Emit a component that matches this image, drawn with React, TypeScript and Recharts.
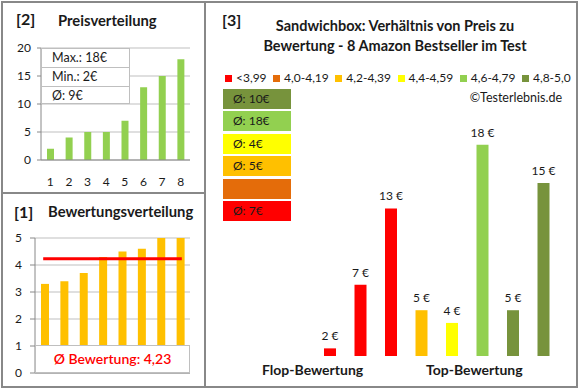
import { BarChart, Bar, XAxis, YAxis, CartesianGrid, Line, ComposedChart, LabelList, Cell } from "recharts";

// [2] Preisverteilung
const PRICE_RANKS = ["1", "2", "3", "4", "5", "6", "7", "8"];
const PRICES = [2, 4, 5, 5, 7, 13, 15, 18];
const PRICE_TICKS = [0, 5, 10, 15, 20];
const PRICE_GRID = [0, 1, 2, 3, 4, 5, 6, 7, 8, 9, 10, 11, 12, 13, 14, 15, 16, 17, 18, 19, 20];

// [1] Bewertungsverteilung
const RATINGS = [3.3, 3.4, 3.7, 4.3, 4.5, 4.6, 5.0, 5.0];
const RATING_AVG = 4.23;
const RATING_TICKS = [0, 1, 2, 3, 4, 5];
const RATING_GRID = [0, 0.2, 0.4, 0.6, 0.8, 1, 1.2, 1.4, 1.6, 1.8, 2, 2.2, 2.4, 2.6, 2.8, 3, 3.2, 3.4, 3.6, 3.8, 4, 4.2, 4.4, 4.6, 4.8, 5];

// [3] Preis zu Bewertung
const PRODUCTS = ["A", "B", "C", "D", "E", "F", "G", "H"];
const PRODUCT_PRICES = [2, 7, 13, 5, 4, 18, 5, 15];
const PRODUCT_GROUP = [0, 0, 0, 2, 3, 4, 5, 5];
const GROUP_LABELS = ["<3,99", "4,0-4,19", "4,2-4,39", "4,4-4,59", "4,6-4,79", "4,8-5,0"];
const GROUP_COLORS = ["#FF0000", "#E46C0A", "#FFC000", "#FFFF00", "#92D050", "#77933C"];

const FONT = "Lato, 'Open Sans', sans-serif";
const BORDER = "#888888";
const GRID = "#BFBFBF";
const TEXT = "#1a1a1a";

const priceData = PRICE_RANKS.map((rank, i) => ({ rank, price: PRICES[i] }));
const ratingData = RATINGS.map((rating, i) => ({ idx: String(i + 1), rating, avg: RATING_AVG }));
const productData = PRODUCTS.map((name, i) => ({ name, price: PRODUCT_PRICES[i], group: PRODUCT_GROUP[i] }));

const maxPrice = Math.max(...PRICES);
const minPrice = Math.min(...PRICES);
const avgPrice = Math.round(PRICES.reduce((a, b) => a + b, 0) / PRICES.length);

const groupAvg = GROUP_LABELS.map((_, g) => {
  const vals = productData.filter((d) => d.group === g).map((d) => d.price);
  return vals.length ? Math.round(vals.reduce((a, b) => a + b, 0) / vals.length) : null;
});

const tick = { fill: TEXT, fontSize: 12, fontFamily: FONT };

const PriceLabel = (props: any) => {
  const { x, y, width, value } = props;
  return (
    <text x={Number(x) + Number(width) / 2} y={Number(y) - 8} textAnchor="middle" fill={TEXT} fontSize={12} fontFamily={FONT}>
      {`${value} €`}
    </text>
  );
};

export default function App() {
  return (
    <div style={{ position: "absolute", left: 0, top: 0, width: 580, height: 390, background: "#fff", fontFamily: FONT, color: TEXT }}>
      {/* frames */}
      <div style={{ position: "absolute", left: 1, top: 1, width: 577, height: 387, border: `2px solid ${BORDER}`, boxSizing: "border-box" }} />
      <div style={{ position: "absolute", left: 204, top: 1, width: 2, height: 387, background: BORDER }} />
      <div style={{ position: "absolute", left: 1, top: 192, width: 205, height: 2, background: BORDER }} />

      {/* [2] Preisverteilung */}
      <div style={{ position: "absolute", left: 0, top: 0 }}>
        <BarChart width={205} height={193} data={priceData} margin={{ top: 48, right: 15, bottom: 0, left: 11 }}>
          <CartesianGrid horizontal vertical={false} stroke={GRID} horizontalValues={PRICE_GRID} />
          <XAxis dataKey="rank" height={33} tickLine={false} tickSize={0} tickMargin={17} axisLine={{ stroke: BORDER }} tick={tick} interval={0} />
          <YAxis width={30} domain={[0, 20]} ticks={PRICE_TICKS} allowDataOverflow tickSize={4} tickMargin={6} axisLine={{ stroke: BORDER }} tickLine={{ stroke: BORDER }} tick={tick} />
          <Bar dataKey="price" fill="#92D050" barSize={7} isAnimationActive={false} />
        </BarChart>
      </div>
      <div style={{ position: "absolute", left: 16, top: 9, fontSize: 16, fontWeight: 700 }}>[2]</div>
      <div style={{ position: "absolute", left: 58, top: 11, fontSize: 14.8, fontWeight: 700 }}>Preisverteilung</div>
      <div style={{ position: "absolute", left: 41, top: 48, width: 89, height: 56, background: "#fff", border: "1px solid #BFBFBF", boxSizing: "border-box", fontSize: 12.5 }}>
        {[`Max.: ${maxPrice}€`, `Min.: ${minPrice}€`, `Ø: ${avgPrice}€`].map((t, i) => (
          <div key={t} style={{ height: 18, lineHeight: "18px", paddingLeft: 10, borderTop: i ? "1px solid #BFBFBF" : "none" }}>{t}</div>
        ))}
      </div>

      {/* [1] Bewertungsverteilung */}
      <div style={{ position: "absolute", left: 0, top: 193 }}>
        <ComposedChart width={205} height={195} data={ratingData} margin={{ top: 45, right: 15, bottom: 0, left: 5 }}>
          <CartesianGrid horizontal vertical={false} stroke={GRID} horizontalValues={RATING_GRID} />
          <XAxis dataKey="idx" height={15} tick={false} tickLine={false} axisLine={{ stroke: BORDER }} />
          <YAxis width={30} domain={[0, 5]} ticks={RATING_TICKS} allowDataOverflow tickSize={5} tickMargin={8} axisLine={{ stroke: BORDER }} tickLine={{ stroke: BORDER }} tick={tick} />
          <Bar dataKey="rating" fill="#FFC000" barSize={8} isAnimationActive={false} />
          <Line dataKey="avg" stroke="#FF0000" strokeWidth={3} strokeLinecap="square" dot={false} activeDot={false} isAnimationActive={false} />
        </ComposedChart>
      </div>
      <div style={{ position: "absolute", left: 14, top: 202, fontSize: 16, fontWeight: 700 }}>[1]</div>
      <div style={{ position: "absolute", left: 48, top: 202, fontSize: 14.8, fontWeight: 700 }}>Bewertungsverteilung</div>
      <div style={{ position: "absolute", left: 35, top: 345, width: 155, height: 28, background: "#fff", border: "1px solid #BFBFBF", boxSizing: "border-box", color: "#FF0000", fontSize: 14, fontWeight: 600, textAlign: "center", lineHeight: "26px" }}>
        Ø Bewertung: {String(RATING_AVG).replace(".", ",")}
      </div>

      {/* [3] Verhältnis von Preis zu Bewertung */}
      <div style={{ position: "absolute", left: 205, top: 0 }}>
        <BarChart width={373} height={388} data={productData} margin={{ top: 94, right: 19, bottom: 32, left: 110 }}>
          <XAxis dataKey="name" hide />
          <YAxis hide domain={[1.4, 22]} allowDataOverflow />
          <Bar dataKey="price" barSize={12} isAnimationActive={false}>
            {productData.map((d, i) => (
              <Cell key={`cell-${i}`} fill={GROUP_COLORS[d.group]} />
            ))}
            <LabelList dataKey="price" content={PriceLabel} />
          </Bar>
        </BarChart>
      </div>
      <div style={{ position: "absolute", left: 222, top: 10, fontSize: 16, fontWeight: 700 }}>[3]</div>
      <div style={{ position: "absolute", left: 225, top: 16, width: 340, textAlign: "center", fontSize: 14.5, fontWeight: 700, lineHeight: "20px" }}>
        Sandwichbox: Verhältnis von Preis zu
        <br />
        Bewertung - 8 Amazon Bestseller im Test
      </div>
      <div style={{ position: "absolute", left: 225, top: 71, display: "flex", fontSize: 12, lineHeight: "14px" }}>
        {GROUP_LABELS.map((l, i) => (
          <div key={l} style={{ display: "flex", alignItems: "center", marginRight: 6.5 }}>
            <span style={{ display: "inline-block", width: 7, height: 7, background: GROUP_COLORS[i], marginRight: 4 }} />
            {l}
          </div>
        ))}
      </div>
      <div style={{ position: "absolute", right: 18, top: 90, fontSize: 12.5 }}>©Testerlebnis.de</div>
      {GROUP_LABELS.map((_, g) => {
        const row = GROUP_LABELS.length - 1 - g;
        return (
          <div key={g} style={{ position: "absolute", left: 223, top: 89 + row * 22.4, width: 68, height: 20, background: GROUP_COLORS[g], fontSize: 12, lineHeight: "20px", paddingLeft: 10, boxSizing: "border-box" }}>
            {groupAvg[g] !== null ? `Ø: ${groupAvg[g]}€` : ""}
          </div>
        );
      })}
      <div style={{ position: "absolute", left: 262, top: 361, fontSize: 14, fontWeight: 700 }}>Flop-Bewertung</div>
      <div style={{ position: "absolute", left: 426, top: 361, fontSize: 14, fontWeight: 700 }}>Top-Bewertung</div>
    </div>
  );
}
